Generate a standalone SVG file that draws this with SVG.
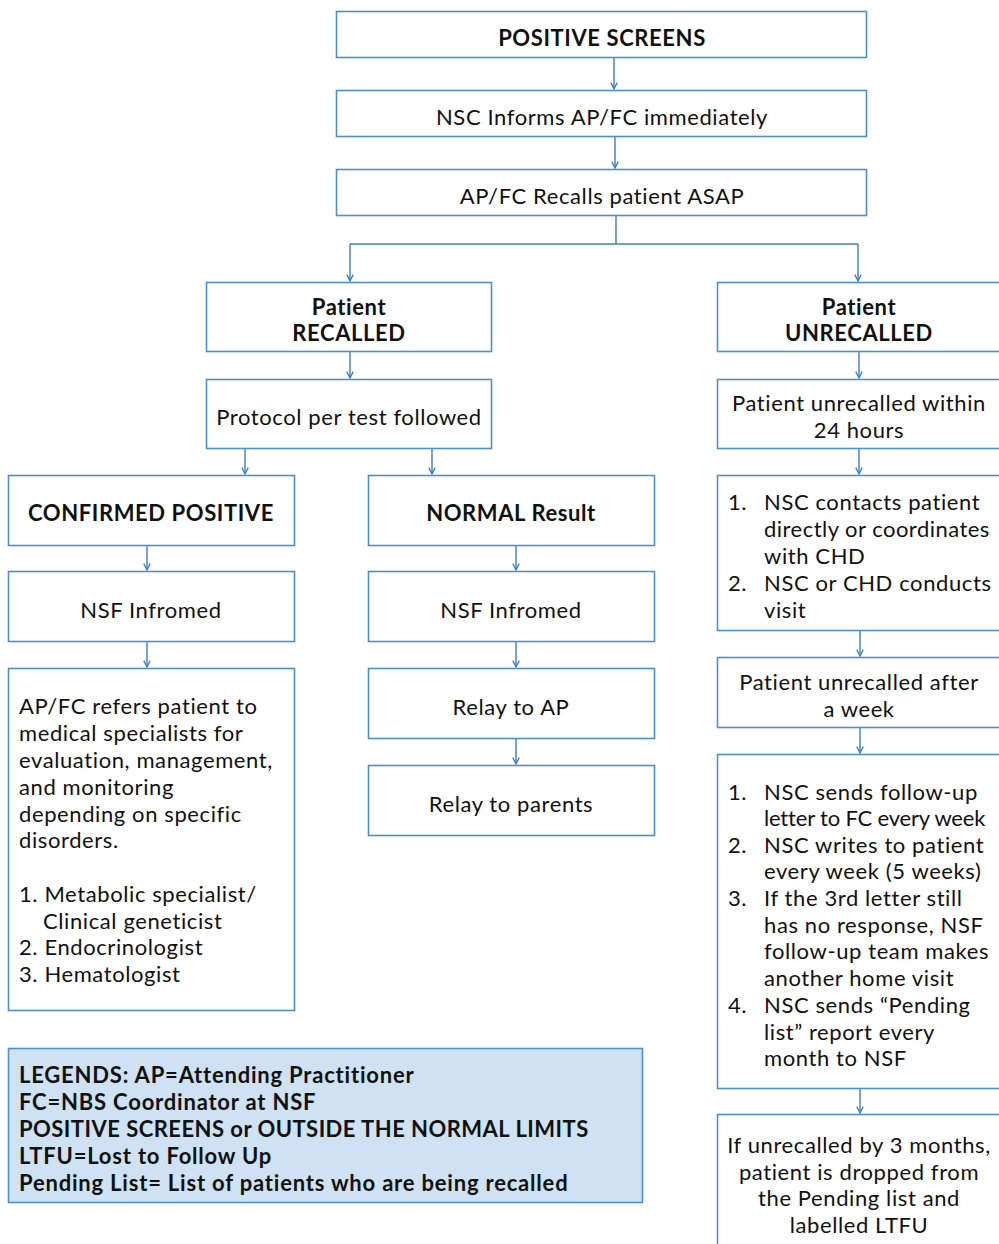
<svg xmlns="http://www.w3.org/2000/svg" width="999" height="1244" viewBox="0 0 999 1244">
<style>
.box{fill:#ffffff;stroke:#4f8fcf;stroke-width:1.6}
.leg{fill:#cfe2f3;stroke:#4f8fcf;stroke-width:1.6}
.t{font-family:Lato,"Liberation Sans",sans-serif;font-size:22px;fill:#111;letter-spacing:0.6px}
.c{text-anchor:middle}
.b{font-weight:700}
.m{font-weight:700;letter-spacing:0.8px}
.con{stroke:#3b7dc4;stroke-width:1.4;fill:none}
</style>
<defs>
<marker id="ah" viewBox="0 0 10 10" refX="9" refY="5" markerWidth="8" markerHeight="8" markerUnits="userSpaceOnUse" orient="auto">
<path d="M1,1 L9,5 L1,9" fill="none" stroke="#3b7dc4" stroke-width="1.6"/>
</marker>
</defs>
<rect width="999" height="1244" fill="#ffffff"/>
<g id="connectors" class="con">
<line x1="614" y1="57" x2="614" y2="89" marker-end="url(#ah)"/>
<line x1="615" y1="136" x2="615" y2="168" marker-end="url(#ah)"/>
<polyline points="616,215 616,244"/>
<polyline points="350,244 858,244"/>
<line x1="350" y1="244" x2="350" y2="281" marker-end="url(#ah)"/>
<line x1="858" y1="244" x2="858" y2="281" marker-end="url(#ah)"/>
<line x1="350" y1="351" x2="350" y2="378" marker-end="url(#ah)"/>
<line x1="245" y1="448" x2="245" y2="474" marker-end="url(#ah)"/>
<line x1="432" y1="448" x2="432" y2="474" marker-end="url(#ah)"/>
<line x1="147" y1="545" x2="147" y2="570" marker-end="url(#ah)"/>
<line x1="516" y1="545" x2="516" y2="570" marker-end="url(#ah)"/>
<line x1="147" y1="641" x2="147" y2="667" marker-end="url(#ah)"/>
<line x1="516" y1="641" x2="516" y2="667" marker-end="url(#ah)"/>
<line x1="516" y1="738" x2="516" y2="764" marker-end="url(#ah)"/>
<line x1="859" y1="351" x2="859" y2="378" marker-end="url(#ah)"/>
<line x1="859" y1="448" x2="859" y2="474" marker-end="url(#ah)"/>
<line x1="860" y1="630" x2="860" y2="656" marker-end="url(#ah)"/>
<line x1="860" y1="727" x2="860" y2="753" marker-end="url(#ah)"/>
<line x1="860" y1="1088" x2="860" y2="1113" marker-end="url(#ah)"/>
</g>
<g id="positive-screens">
<rect class="box" x="336.5" y="11.5" width="530" height="46"/>
<text class="t c b" x="602" y="46">POSITIVE SCREENS</text>
</g>
<g id="nsc-informs">
<rect class="box" x="336.5" y="90.5" width="530" height="46"/>
<text class="t c" x="602" y="125">NSC Informs AP/FC immediately</text>
</g>
<g id="recalls-asap">
<rect class="box" x="336.5" y="169.5" width="530" height="46"/>
<text class="t c" x="602" y="204">AP/FC Recalls patient ASAP</text>
</g>
<g id="patient-recalled">
<rect class="box" x="206.5" y="282.5" width="285" height="69"/>
<text class="t c b" x="349" y="315">Patient</text>
<text class="t c b" x="349" y="341">RECALLED</text>
</g>
<g id="patient-unrecalled">
<rect class="box" x="717.5" y="282.5" width="290" height="69"/>
<text class="t c b" x="859" y="315">Patient</text>
<text class="t c b" x="859" y="341">UNRECALLED</text>
</g>
<g id="protocol">
<rect class="box" x="206.5" y="379.5" width="285" height="69"/>
<text class="t c" x="349" y="425">Protocol per test followed</text>
</g>
<g id="confirmed-positive">
<rect class="box" x="8.5" y="475.5" width="286" height="70"/>
<text class="t c b" x="151" y="521">CONFIRMED POSITIVE</text>
</g>
<g id="normal-result">
<rect class="box" x="368.5" y="475.5" width="286" height="70"/>
<text class="t c b" x="511" y="521">NORMAL Result</text>
</g>
<g id="nsf-informed-1">
<rect class="box" x="8.5" y="571.5" width="286" height="70"/>
<text class="t c" x="151" y="618">NSF Infromed</text>
</g>
<g id="nsf-informed-2">
<rect class="box" x="368.5" y="571.5" width="286" height="70"/>
<text class="t c" x="511" y="618">NSF Infromed</text>
</g>
<g id="refers-specialists">
<rect class="box" x="8.5" y="668.5" width="286" height="342"/>
<text class="t" x="19" y="714">AP/FC refers patient to</text>
<text class="t" x="19" y="741">medical specialists for</text>
<text class="t" x="19" y="768">evaluation, management,</text>
<text class="t" x="19" y="795">and monitoring</text>
<text class="t" x="19" y="822">depending on specific</text>
<text class="t" x="19" y="848">disorders.</text>
<text class="t" x="19" y="902">1. Metabolic specialist/</text>
<text class="t" x="43" y="929">Clinical geneticist</text>
<text class="t" x="19" y="955">2. Endocrinologist</text>
<text class="t" x="19" y="982">3. Hematologist</text>
</g>
<g id="relay-ap">
<rect class="box" x="368.5" y="668.5" width="286" height="70"/>
<text class="t c" x="511" y="715">Relay to AP</text>
</g>
<g id="relay-parents">
<rect class="box" x="368.5" y="765.5" width="286" height="70"/>
<text class="t c" x="511" y="812">Relay to parents</text>
</g>
<g id="unrecalled-24h">
<rect class="box" x="717.5" y="379.5" width="290" height="69"/>
<text class="t c" x="859" y="411">Patient unrecalled within</text>
<text class="t c" x="859" y="438">24 hours</text>
</g>
<g id="nsc-contacts">
<rect class="box" x="717.5" y="475.5" width="290" height="155"/>
<text class="t" x="728" y="510">1.</text>
<text class="t" x="764" y="510">NSC contacts patient</text>
<text class="t" x="764" y="537" textLength="226" lengthAdjust="spacing">directly or coordinates</text>
<text class="t" x="764" y="564">with CHD</text>
<text class="t" x="728" y="591">2.</text>
<text class="t" x="764" y="591">NSC or CHD conducts</text>
<text class="t" x="764" y="618">visit</text>
</g>
<g id="unrecalled-week">
<rect class="box" x="717.5" y="657.5" width="290" height="70"/>
<text class="t c" x="859" y="690">Patient unrecalled after</text>
<text class="t c" x="859" y="717">a week</text>
</g>
<g id="follow-up-letters">
<rect class="box" x="717.5" y="754.5" width="290" height="334"/>
<text class="t" x="728" y="800">1.</text>
<text class="t" x="764" y="800">NSC sends follow-up</text>
<text class="t" x="764" y="826" textLength="222" lengthAdjust="spacing">letter to FC every week</text>
<text class="t" x="728" y="853">2.</text>
<text class="t" x="764" y="853">NSC writes to patient</text>
<text class="t" x="764" y="879">every week (5 weeks)</text>
<text class="t" x="728" y="906">3.</text>
<text class="t" x="764" y="906">If the 3rd letter still</text>
<text class="t" x="764" y="933">has no response, NSF</text>
<text class="t" x="764" y="959">follow-up team makes</text>
<text class="t" x="764" y="986">another home visit</text>
<text class="t" x="728" y="1013">4.</text>
<text class="t" x="764" y="1013">NSC sends “Pending</text>
<text class="t" x="764" y="1040">list” report every</text>
<text class="t" x="764" y="1066">month to NSF</text>
</g>
<g id="ltfu">
<rect class="box" x="717.5" y="1114.5" width="290" height="150"/>
<text class="t c" x="859" y="1153">If unrecalled by 3 months,</text>
<text class="t c" x="859" y="1180">patient is dropped from</text>
<text class="t c" x="859" y="1206">the Pending list and</text>
<text class="t c" x="859" y="1233">labelled LTFU</text>
</g>
<g id="legend">
<rect class="leg" x="8.5" y="1048.5" width="634" height="154"/>
<text class="t m" x="19" y="1083">LEGENDS: AP=Attending Practitioner</text>
<text class="t m" x="19" y="1110">FC=NBS Coordinator at NSF</text>
<text class="t m" x="19" y="1137" textLength="570" lengthAdjust="spacing">POSITIVE SCREENS or OUTSIDE THE NORMAL LIMITS</text>
<text class="t m" x="19" y="1164">LTFU=Lost to Follow Up</text>
<text class="t m" x="19" y="1191">Pending List= List of patients who are being recalled</text>
</g>
</svg>
